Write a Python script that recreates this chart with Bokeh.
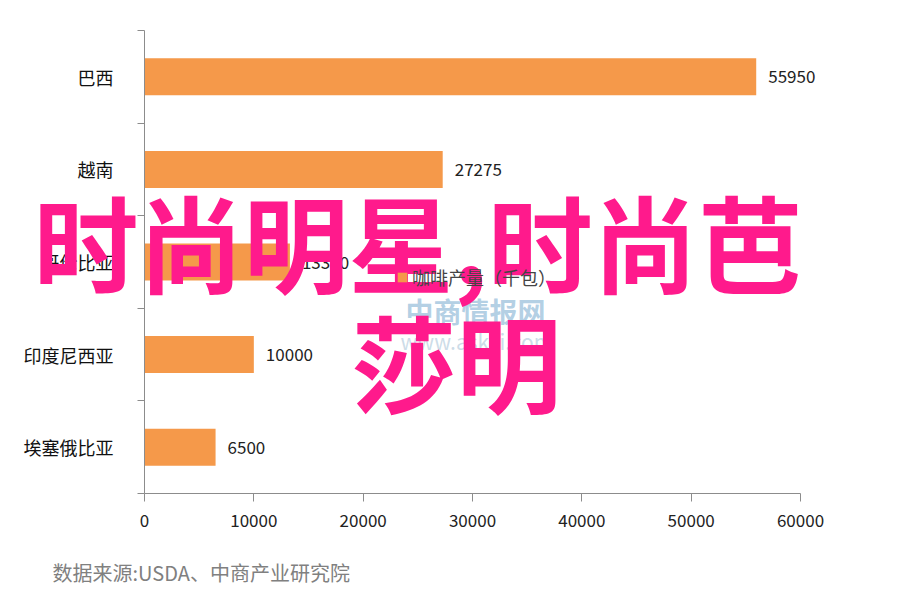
from bokeh.plotting import figure
from bokeh.models import (Range1d, FixedTicker, ColumnDataSource, Label, LabelSet,
                          Legend, LegendItem, LinearAxis)
from bokeh.core.properties import value
from bokeh.embed import file_html
from bokeh.resources import INLINE

categories = ["巴西", "越南", "哥伦比亚", "印度尼西亚", "埃塞俄比亚"]
values = [55950, 27275, 13300, 10000, 6500]
x_ticks = [0, 10000, 20000, 30000, 40000, 50000, 60000]
series_name = "咖啡产量（千包）"
source_text = "数据来源:USDA、中商产业研究院"
overlay_line1 = "时尚明星,时尚芭"
overlay_line2 = "莎明"
watermark1 = "中商情报网"
watermark2 = "www.askci.com"

FONT = "Noto Sans CJK SC"
BAR = "#F5994A"
AXIS = "#8C8C8C"

W, H = 907, 611
# plot area (in pixels) inside the full canvas
FL, FR, FT, FB = 144, 800, 30, 493

n = len(categories)
idx = list(range(n))
xmin, xmax = x_ticks[0], x_ticks[-1]
ppx = (FR - FL) / (xmax - xmin)
ppy = (FB - FT) / n

x_range = Range1d(xmin - FL / ppx, xmax + (W - FR) / ppx)
y_range = Range1d(n - 0.5 + (H - FB) / ppy, -0.5 - FT / ppy)

src = ColumnDataSource(dict(y=idx, v=values, cat=categories,
                            lbl=[str(v) for v in values]))

p = figure(width=W, height=H, output_backend="svg", toolbar_location=None,
           x_range=x_range, y_range=y_range,
           x_axis_location=None, y_axis_location=None,
           min_border=0, background_fill_color="white",
           border_fill_color="white", outline_line_color=None)

r = p.hbar(y="y", right="v", left=0, height=0.4, source=src,
           fill_color=BAR, line_color=None)

p.add_layout(LabelSet(x="v", y="y", text="lbl", source=src, x_offset=12,
                      text_baseline="middle", text_font=value(FONT),
                      text_font_size=value("17px"), text_color="#222222"))

p.xgrid.visible = False
p.ygrid.visible = False

# x axis
xaxis = LinearAxis(fixed_location=n - 0.5, bounds=(xmin, xmax),
                   ticker=FixedTicker(ticks=x_ticks))
xaxis.axis_line_color = AXIS
xaxis.major_tick_line_color = AXIS
xaxis.major_tick_out = 8
xaxis.major_tick_in = 0
xaxis.minor_tick_line_color = None
xaxis.major_label_standoff = 12
xaxis.major_label_text_font = FONT
xaxis.major_label_text_font_size = "17px"
xaxis.major_label_text_color = "#222222"
p.add_layout(xaxis, "below")

# y axis: labels at centers, tick marks at band boundaries
yaxis = LinearAxis(fixed_location=xmin, bounds=(-0.5, n - 0.5),
                   ticker=FixedTicker(ticks=idx,
                                      minor_ticks=[i - 0.5 for i in range(n + 1)]))
yaxis.major_label_overrides = {i: c for i, c in zip(idx, categories)}
yaxis.axis_line_color = AXIS
yaxis.major_tick_line_color = None
yaxis.major_tick_out = 0
yaxis.major_tick_in = 0
yaxis.minor_tick_line_color = AXIS
yaxis.minor_tick_out = 7
yaxis.minor_tick_in = 0
yaxis.major_label_standoff = 24
yaxis.major_label_text_font = FONT
yaxis.major_label_text_font_size = "18px"
yaxis.major_label_text_color = "#111111"
p.add_layout(yaxis, "left")

# legend (partly hidden in the reference)
legend = Legend(items=[LegendItem(label=series_name, renderers=[r])],
                location=(396, 321), background_fill_alpha=0,
                border_line_color=None, label_text_font=FONT,
                label_text_font_size="18px", glyph_width=12, glyph_height=12,
                label_standoff=4)
p.add_layout(legend, "center")

# watermark
p.add_layout(Label(x=405, y=H - 310, x_units="screen", y_units="screen",
                   text=watermark1, text_font=FONT, text_font_size="28px",
                   text_font_style="bold", text_color="#9FC3DD", text_alpha=0.8,
                   text_baseline="middle"))
p.add_layout(Label(x=400, y=H - 340, x_units="screen", y_units="screen",
                   text=watermark2, text_font=FONT, text_font_size="21px",
                   text_color="#BFD3E2", text_alpha=0.8,
                   text_baseline="middle"))

# footer
p.add_layout(Label(x=52, y=H - 572, x_units="screen", y_units="screen",
                   text=source_text, text_font=FONT, text_font_size="20px",
                   text_color="#808080", text_baseline="middle"))

# overlay text
p.add_layout(Label(x=33, y=H - 238, x_units="screen", y_units="screen",
                   text=overlay_line1, text_font=FONT, text_font_size="105px",
                   text_font_style="bold", text_color="#FF1A8C",
                   text_baseline="middle"))
p.add_layout(Label(x=351, y=H - 358, x_units="screen", y_units="screen",
                   text=overlay_line2, text_font=FONT, text_font_size="105px",
                   text_font_style="bold", text_color="#FF1A8C",
                   text_baseline="middle"))

open("out.html", "w").write(file_html(p, INLINE))
